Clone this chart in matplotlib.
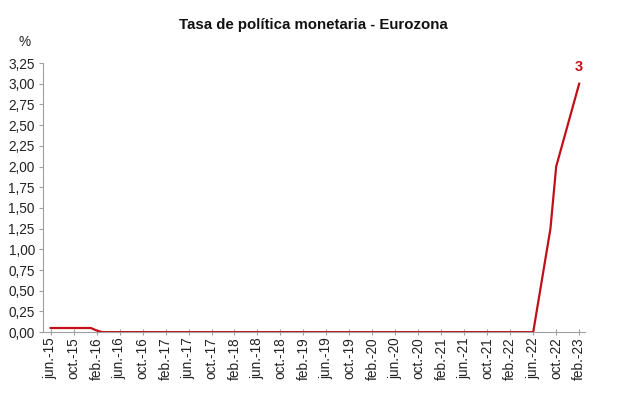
import pandas as pd
import matplotlib
matplotlib.use("Agg")
from matplotlib import pyplot as plt

plt.rcParams['font.family'] = ['Liberation Sans', 'DejaVu Sans']

# puntos del gráfico (fecha, tasa %)
fechas = ["2015-06", "2016-01", "2016-02", "2016-03", "2022-06", "2022-09", "2022-10", "2023-02"]
tasa = [0.05, 0.05, 0.02, 0.00, 0.00, 1.25, 2.00, 3.00]

meses_es = ["ene.", "feb.", "mar.", "abr.", "may.", "jun.", "jul.", "ago.", "sept.", "oct.", "nov.", "dic."]
inicio = pd.Period("2015-06", freq="M")
fin = pd.Period("2023-02", freq="M")

x = [(pd.Period(f, freq="M") - inicio).n for f in fechas]
n_total = (fin - inicio).n

tick_pos = list(range(0, n_total + 1, 4))
tick_lab = []
for p in tick_pos:
    per = inicio + p
    tick_lab.append(f"{meses_es[per.month - 1]}-{per.year % 100:02d}")

fig = plt.figure(figsize=(6.17, 3.94), dpi=100)
ax = fig.add_axes([0.070, 0.157, 0.878, 0.683])

ax.plot(x, tasa, color="#C0101A", linewidth=1.6, solid_joinstyle="miter")
ax.text(x[-1], tasa[-1] + 0.12, "3", color="#C0101A", fontsize=10.5,
        fontweight="bold", ha="center", va="bottom")

ax.set_xlim(-1.3, n_total + 1.0)
ax.set_ylim(0, 3.25)
ax.set_yticks([i * 0.25 for i in range(14)])
ax.set_yticklabels([f"{i * 0.25:.2f}".replace(".", ",") for i in range(14)])
ax.set_xticks(tick_pos)
ax.set_xticklabels(tick_lab, rotation=90)

for s in ["top", "right"]:
    ax.spines[s].set_visible(False)
for s in ["left", "bottom"]:
    ax.spines[s].set_color("#A0A0A0")
    ax.spines[s].set_linewidth(0.8)

ax.tick_params(axis="y", labelsize=9.8, color="#A0A0A0", length=3, width=0.8, pad=3,
               labelcolor="#222222")
ax.tick_params(axis="x", labelsize=9.8, color="#A0A0A0", length=4, width=0.8,
               direction="inout", pad=2, labelcolor="#222222")

fig.text(0.040, 0.893, "%", fontsize=9.8, ha="center", va="center", color="#222222")
fig.text(0.508, 0.937, "Tasa de política monetaria - Eurozona", fontsize=10.8,
         fontweight="bold", ha="center", va="center", color="#111111")

fig.savefig("out.png", dpi=100)
